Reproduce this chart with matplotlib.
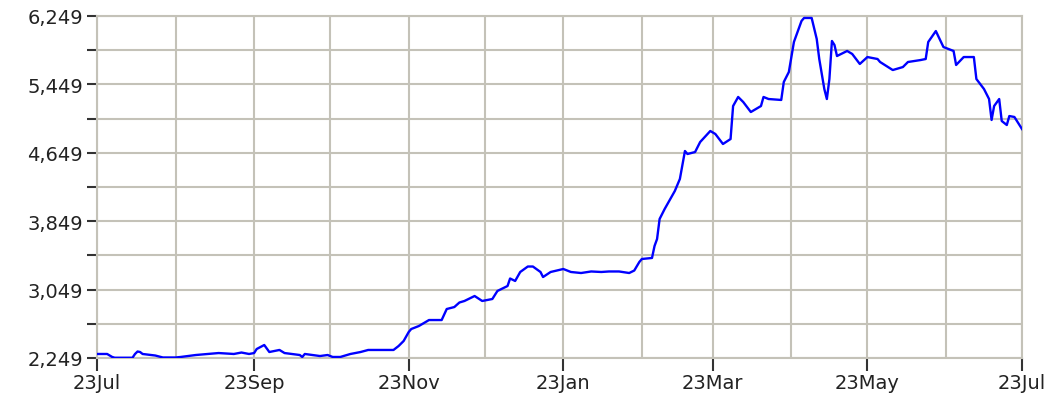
import matplotlib
matplotlib.use("Agg")
import matplotlib.dates as mdates
import numpy as np
import pandas as pd
from matplotlib import pyplot as plt
from matplotlib.ticker import FuncFormatter, MultipleLocator

# days since 23 Jul and price
days = [
    0, 4, 6, 7, 14, 15, 16, 17, 18, 23, 26, 31, 33, 39, 48, 54, 57, 60, 62, 63,
    66, 68, 72, 74, 80, 81, 82, 88, 91, 93, 96, 100, 104, 107, 117, 119, 121, 123, 124, 127,
    131, 136, 138, 141, 143, 145, 149, 152, 156, 158, 162, 163, 165, 167, 170, 172, 175, 176, 179, 184,
    187, 191, 195, 199, 202, 206, 210, 212, 214, 215, 219, 220, 221, 222, 224, 228, 230, 232, 233, 236,
    238, 242, 244, 247, 250, 251, 253, 255, 258, 262, 263, 265, 270, 271, 273, 275, 278, 279, 282, 284,
    285, 287, 288, 289, 290, 291, 292, 296, 298, 301, 304, 308, 309, 314, 318, 320, 325, 327, 328, 331,
    334, 338, 339, 342, 346, 347, 350, 352, 353, 354, 356, 357, 359, 360, 362, 365,
]
prices = [
    2296, 2296, 2261, 2252, 2252, 2296, 2325, 2319, 2296, 2278, 2255, 2255, 2261, 2284, 2307, 2296, 2313, 2296, 2307, 2354,
    2401, 2319, 2343, 2307, 2284, 2261, 2296, 2272, 2284, 2261, 2261, 2296, 2319, 2343, 2343, 2389, 2448, 2553, 2588, 2623,
    2693, 2693, 2822, 2845, 2898, 2916, 2974, 2916, 2939, 3033, 3091, 3179, 3150, 3255, 3319, 3319, 3255, 3196, 3255, 3290,
    3255, 3243, 3261, 3255, 3261, 3261, 3243, 3272, 3372, 3407, 3419, 3559, 3641, 3875, 3992, 4202, 4343, 4670, 4635, 4658,
    4775, 4904, 4869, 4752, 4810, 5196, 5302, 5243, 5126, 5196, 5302, 5278, 5267, 5477, 5594, 5945, 6191, 6226, 6226, 5980,
    5746, 5395, 5278, 5512, 5957, 5910, 5781, 5840, 5805, 5688, 5769, 5746, 5711, 5617, 5652, 5711, 5734, 5746, 5945, 6073,
    5886, 5840, 5676, 5769, 5769, 5512, 5395, 5278, 5033, 5196, 5278, 5021, 4974, 5079, 5068, 4927,
]

start = pd.Timestamp("2022-07-23")
end = pd.Timestamp("2023-07-23")
y_min, y_max = 2249, 6249

dates = start + pd.to_timedelta(days, unit="D")

fig = plt.figure(figsize=(10.55, 4.02), dpi=100)
ax = fig.add_axes([97 / 1055, 43 / 402, 925 / 1055, 342 / 402])

ax.plot(dates, prices, color="#0000ff", linewidth=1.7, zorder=3)

ax.set_xlim(start, end)
ax.set_ylim(y_min, y_max)

grid_color = "#c4c2b8"
ax.xaxis.set_major_locator(mdates.MonthLocator(bymonthday=23, interval=2))
ax.xaxis.set_minor_locator(mdates.MonthLocator(bymonthday=23))
ax.xaxis.set_major_formatter(mdates.DateFormatter("%d%b"))
ax.yaxis.set_major_locator(MultipleLocator(800, offset=y_min % 800))
ax.yaxis.set_minor_locator(MultipleLocator(400, offset=y_min % 400))
ax.yaxis.set_major_formatter(FuncFormatter(lambda v, _: f"{v:,.0f}"))

ax.grid(True, which="both", color=grid_color, linewidth=1.5, zorder=1)
for side in ax.spines.values():
    side.set_color(grid_color)
    side.set_linewidth(1.5)

ax.tick_params(axis="x", which="major", length=9, width=1.5, color="#333333",
               labelsize=14, labelcolor="#222222", pad=2)
ax.tick_params(axis="x", which="minor", length=0)
ax.tick_params(axis="y", which="both", length=7, width=1.5, color="#333333",
               labelsize=14, labelcolor="#222222", pad=3)

fig.savefig("out.png", dpi=100)
